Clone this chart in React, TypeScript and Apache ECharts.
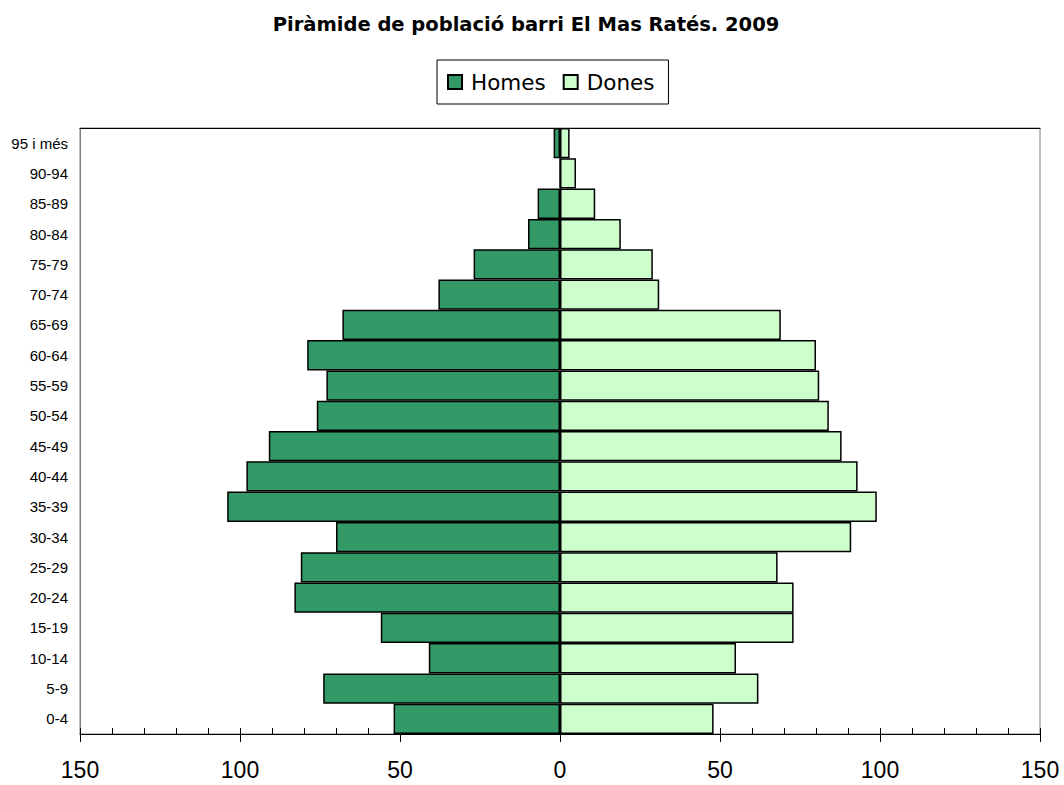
import React, { useEffect, useRef } from "react";
import * as echarts from "echarts";

const categories = ["0-4", "5-9", "10-14", "15-19", "20-24", "25-29", "30-34", "35-39", "40-44", "45-49", "50-54", "55-59", "60-64", "65-69", "70-74", "75-79", "80-84", "85-89", "90-94", "95 i més"];
const homes = [52, 74, 41, 56, 83, 81, 70, 104, 98, 91, 76, 73, 79, 68, 38, 27, 10, 7, 0, 2];
const dones = [48, 62, 55, 73, 73, 68, 91, 99, 93, 88, 84, 81, 80, 69, 31, 29, 19, 11, 5, 3];
const titleText = "Piràmide de població barri El Mas Ratés. 2009";

const FONT = "'Liberation Sans', Arial, sans-serif";
const WIDE = "'DejaVu Sans', sans-serif";

export default function App() {
  const ref = useRef<HTMLDivElement>(null);
  useEffect(() => {
    if (!ref.current) return;
    const chart = echarts.init(ref.current, null, { renderer: "svg" });
    chart.setOption({
      animation: false,
      backgroundColor: "#fff",
      title: {
        text: titleText,
        left: 521,
        textAlign: "center",
        top: 9,
        textStyle: { fontFamily: WIDE, fontSize: 19.5, fontWeight: "bold", color: "#000" },
      },
      legend: {
        data: ["Homes", "Dones"],
        left: 437,
        top: 60,
        padding: [10, 14, 10, 10],
        borderColor: "#000",
        borderWidth: 1,
        itemWidth: 14,
        itemHeight: 14,
        itemGap: 17,
        icon: "rect",
        textStyle: { fontFamily: WIDE, fontSize: 21.5, lineHeight: 24, color: "#000", padding: [0, 0, 0, 4] },
      },
      grid: {
        left: 80,
        right: 24,
        top: 128,
        bottom: 51,
        show: true,
        borderColor: "#808080",
        borderWidth: 1,
        containLabel: false,
      },
      xAxis: [
        {
          type: "value",
          min: -150,
          max: 150,
          interval: 10,
          position: "bottom",
          axisLine: { show: true, onZero: false, lineStyle: { color: "#000", width: 1 } },
          axisTick: { show: true, inside: true, length: 6, lineStyle: { color: "#000" } },
          axisLabel: { show: false },
          splitLine: { show: false },
        },
        {
          type: "value",
          min: -150,
          max: 150,
          interval: 50,
          position: "bottom",
          axisLine: { show: false, onZero: false },
          axisTick: { show: true, length: 8, lineStyle: { color: "#000" } },
          axisLabel: {
            fontFamily: FONT,
            fontSize: 23,
            color: "#000",
            margin: 24,
            formatter: (v: number) => String(Math.abs(v)),
          },
          splitLine: { show: false },
        },
        {
          type: "value",
          min: -150,
          max: 150,
          position: "top",
          axisLine: { show: true, onZero: false, lineStyle: { color: "#000", width: 1 } },
          axisTick: { show: false },
          axisLabel: { show: false },
          splitLine: { show: false },
        },
      ],
      yAxis: {
        type: "category",
        data: categories,
        axisLine: { show: true, onZero: false, lineStyle: { color: "#808080" } },
        axisTick: { show: false },
        axisLabel: { fontFamily: FONT, fontSize: 15, color: "#000", margin: 12 },
      },
      series: [
        {
          name: "Homes",
          type: "bar",
          stack: "total",
          xAxisIndex: 0,
          barCategoryGap: "0%",
          data: homes.map((v) => -v),
          itemStyle: { color: "#339966", borderColor: "#000", borderWidth: 1.5 },
        },
        {
          name: "Dones",
          type: "bar",
          stack: "total",
          xAxisIndex: 0,
          barCategoryGap: "0%",
          data: dones,
          itemStyle: { color: "#CCFFCC", borderColor: "#000", borderWidth: 1.5 },
        },
      ],
    });
    return () => chart.dispose();
  }, []);
  return <div ref={ref} style={{ width: 1064, height: 785, position: "absolute", left: 0, top: 0 }} />;
}
